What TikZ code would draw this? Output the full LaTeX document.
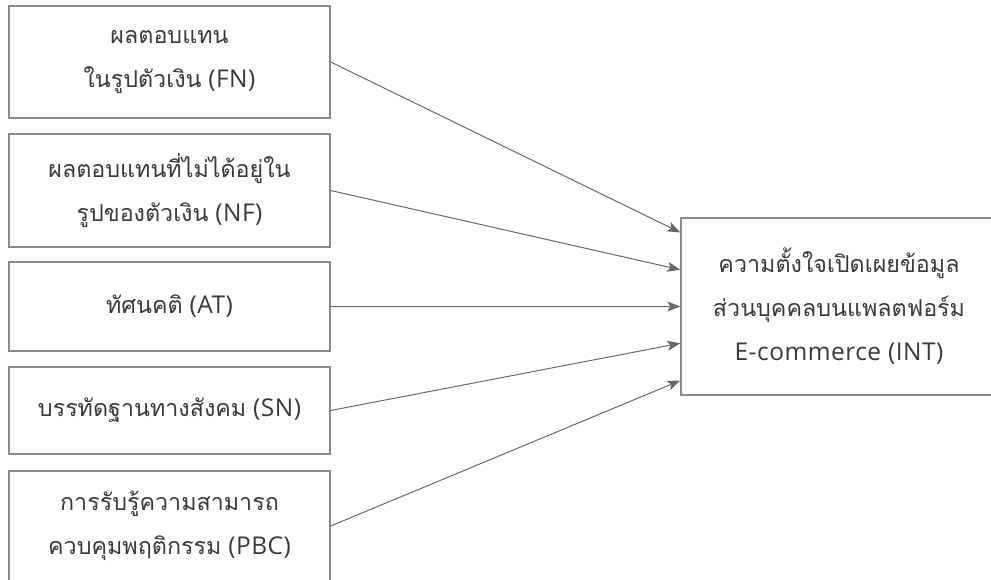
\documentclass[tikz,border=0pt]{standalone}
\usepackage{fontspec}
\setmainfont[LetterSpace=2]{Open Sans}
\newfontfamily\thaifont[Script=Thai,Scale=0.95]{Loma}
\usetikzlibrary{arrows.meta,calc}
\definecolor{boxline}{HTML}{8A8A8A}
\definecolor{arrline}{HTML}{686868}
\definecolor{txt}{HTML}{3A3A3A}
\newcommand{\thtxt}[1]{{\thaifont #1}}
\tikzset{
  varbox/.style={draw=boxline, line width=1.4pt, fill=white, text=txt,
    align=center, inner sep=0pt,
    font=\fontsize{24.5}{44}\selectfont},
  link/.style={draw=arrline, line width=1pt,
    -{Stealth[length=13pt,width=10pt,inset=3pt]}}
}
\begin{document}
\begin{tikzpicture}[x=1pt,y=-1pt]
\useasboundingbox (0,0) rectangle (991,580);
\node[varbox, minimum width=321pt, minimum height=112pt] (fn) at (169.5,62) {\thtxt{ผลตอบแทน}\\\thtxt{ในรูปตัวเงิน} (FN)};
\node[varbox, minimum width=321pt, minimum height=113pt] (nf) at (169.5,190.5) {\thtxt{ผลตอบแทนที่ไม่ได้อยู่ใน}\\\thtxt{รูปของตัวเงิน} (NF)};
\node[varbox, minimum width=321pt, minimum height=89pt] (at) at (169.5,306.5) {\thtxt{ทัศนคติ} (AT)};
\node[varbox, minimum width=321pt, minimum height=87pt] (sn) at (169.5,410.5) {\thtxt{บรรทัดฐานทางสังคม} (SN)};
\node[varbox, minimum width=321pt, minimum height=110pt] (pbc) at (169.5,526) {\thtxt{การรับรู้ความสามารถ}\\\thtxt{ควบคุมพฤติกรรม} (PBC)};
\node[varbox, minimum width=316pt, minimum height=177pt] (int) at (839,306.5) {\thtxt{ความตั้งใจเปิดเผยข้อมูล}\\\thtxt{ส่วนบุคคลบนแพลตฟอร์ม}\\E-commerce (INT)};
\coordinate (e1) at ($(int.north west)!0.085!(int.south west)$);
\coordinate (e2) at ($(int.north west)!0.294!(int.south west)$);
\coordinate (e3) at ($(int.north west)!0.5!(int.south west)$);
\coordinate (e4) at ($(int.north west)!0.706!(int.south west)$);
\coordinate (e5) at ($(int.north west)!0.915!(int.south west)$);
\draw[link] (fn.east) -- (e1);
\draw[link] (nf.east) -- (e2);
\draw[link] (at.east) -- (e3);
\draw[link] (sn.east) -- (e4);
\draw[link] (pbc.east) -- (e5);
\end{tikzpicture}
\end{document}
